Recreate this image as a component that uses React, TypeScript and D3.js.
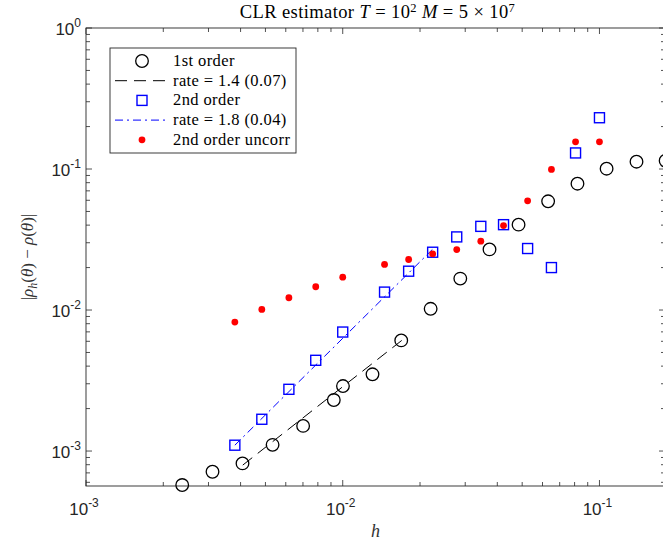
import * as d3 from 'd3';

// h values and errors
const firstH = [0.00237, 0.00311, 0.00407, 0.00533, 0.00701, 0.00923, 0.01002, 0.01306, 0.0169, 0.022, 0.0287, 0.0373, 0.0484, 0.0631, 0.0821, 0.1066, 0.1394, 0.181];
const firstErr = [5.74e-4, 7.13e-4, 8.17e-4, 1.106e-3, 1.507e-3, 2.3e-3, 2.89e-3, 3.5e-3, 6.09e-3, 0.0102, 0.0167, 0.0269, 0.0403, 0.059, 0.0787, 0.1005, 0.1127, 0.1145];

const secondH = [0.0038, 0.00484, 0.00617, 0.00785, 0.01, 0.01455, 0.01806, 0.0224, 0.0278, 0.0345, 0.0423, 0.0525, 0.065, 0.0807, 0.1];
const secondErr = [1.1e-3, 1.68e-3, 2.74e-3, 4.4e-3, 6.98e-3, 0.0134, 0.01885, 0.0257, 0.033, 0.0392, 0.0403, 0.0273, 0.02, 0.13, 0.231];
const uncorrErr = [8.21e-3, 0.0101, 0.01222, 0.01462, 0.0171, 0.02104, 0.02281, 0.02502, 0.02685, 0.03076, 0.0397, 0.0595, 0.0993, 0.156, 0.156];

// fitted rate lines (end points)
const fit1H = [0.00408, 0.0172];
const fit1Err = [7.95e-4, 6.2e-3];
const fit2H = [0.0038, 0.0224];
const fit2Err = [1.1e-3, 0.027];

const xMajor = [1e-3, 1e-2, 1e-1];
const xMajorExp = ['-3', '-2', '-1'];
const yMajor = [1e-3, 1e-2, 1e-1, 1];
const yMajorExp = ['-3', '-2', '-1', '0'];

const legendLabels = ['1st order', 'rate = 1.4 (0.07)', '2nd order', 'rate = 1.8 (0.04)', '2nd order uncorr'];

const W = 663;
const H = 546;
const left = 86;
const right = 665;
const top = 28;
const bottom = 486;

const serif = '"Liberation Serif", "DejaVu Serif", serif';
const sans = '"Liberation Sans", Arial, sans-serif';
const axisColor = '#262626';

export default function App() {
  const x = d3.scaleLog().domain([1e-3, 0.18]).range([left, right]);
  const y = d3.scaleLog().domain([5.65e-4, 1]).range([bottom, top]);

  const minorX: number[] = [];
  for (const d of [1e-3, 1e-2, 1e-1]) {
    for (let k = 2; k <= 9; k++) if (d * k <= 0.18) minorX.push(d * k);
  }
  const minorY: number[] = [];
  for (const d of [1e-4, 1e-3, 1e-2, 1e-1]) {
    for (let k = 2; k <= 9; k++) if (d * k >= 5.65e-4 && d * k <= 1) minorY.push(d * k);
  }

  const line = d3
    .line<[number, number]>()
    .x((d) => x(d[0]))
    .y((d) => y(d[1]));

  const fit1 = line(fit1H.map((h, i) => [h, fit1Err[i]]) as [number, number][]) as string;
  const fit2 = line(fit2H.map((h, i) => [h, fit2Err[i]]) as [number, number][]) as string;

  const majLen = 6;
  const minLen = 4;

  const lgX = 110;
  const lgY = 48;
  const rowY = (i: number) => lgY + 13 + i * 19.7;

  return (
    <svg width={W} height={H} style={{ position: 'absolute', left: 0, top: 0, background: '#fff' }}>
      <rect x={0} y={0} width={W} height={H} fill="#fff" />
      <defs>
        <clipPath id="plotArea">
          <rect x={left} y={top} width={right - left} height={bottom - top} />
        </clipPath>
      </defs>

      {/* ticks */}
      <g stroke={axisColor} strokeWidth={0.8}>
        {xMajor.map((v) => (
          <g key={'xm' + v}>
            <line x1={x(v)} x2={x(v)} y1={bottom} y2={bottom - majLen} />
            <line x1={x(v)} x2={x(v)} y1={top} y2={top + majLen} />
          </g>
        ))}
        {minorX.map((v) => (
          <g key={'xn' + v}>
            <line x1={x(v)} x2={x(v)} y1={bottom} y2={bottom - minLen} />
            <line x1={x(v)} x2={x(v)} y1={top} y2={top + minLen} />
          </g>
        ))}
        {yMajor.map((v) => (
          <g key={'ym' + v}>
            <line x1={left} x2={left + majLen} y1={y(v)} y2={y(v)} />
            <line x1={right} x2={right - majLen} y1={y(v)} y2={y(v)} />
          </g>
        ))}
        {minorY.map((v) => (
          <g key={'yn' + v}>
            <line x1={left} x2={left + minLen} y1={y(v)} y2={y(v)} />
            <line x1={right} x2={right - minLen} y1={y(v)} y2={y(v)} />
          </g>
        ))}
      </g>

      {/* axes box */}
      <rect x={left} y={top} width={right - left} height={bottom - top} fill="none" stroke={axisColor} strokeWidth={0.9} />

      {/* fit lines */}
      <g clipPath="url(#plotArea)" fill="none">
        <path d={fit1} stroke="#000" strokeWidth={1} strokeDasharray="12 7" />
        <path d={fit2} stroke="#0000ff" strokeWidth={1} strokeDasharray="8 4 2 4" />
      </g>

      {/* markers */}
      <g fill="none" stroke="#000" strokeWidth={1.3}>
        {firstH.map((h, i) => (
          <circle key={'c' + i} cx={x(h)} cy={y(firstErr[i])} r={6.3} />
        ))}
      </g>
      <g fill="none" stroke="#0000ff" strokeWidth={1.4}>
        {secondH.map((h, i) => (
          <rect key={'s' + i} x={x(h) - 5} y={y(secondErr[i]) - 5} width={10} height={10} />
        ))}
      </g>
      <g fill="#ff0000">
        {secondH.map((h, i) => (
          <circle key={'u' + i} cx={x(h)} cy={y(uncorrErr[i])} r={3.4} />
        ))}
      </g>

      {/* tick labels */}
      <g fill={axisColor} fontFamily={sans}>
        {xMajor.map((v, i) => (
          <text key={'xl' + v} x={x(v) - 2} y={515} textAnchor="middle" fontSize={17}>
            10
            <tspan dy={-8} fontSize={12}>{xMajorExp[i]}</tspan>
          </text>
        ))}
        {yMajor.map((v, i) => (
          <text key={'yl' + v} x={81} y={y(v) + 7} textAnchor="end" fontSize={17}>
            10
            <tspan dy={-8} fontSize={12}>{yMajorExp[i]}</tspan>
          </text>
        ))}
      </g>

      {/* axis labels */}
      <text x={(left + right) / 2} y={537} textAnchor="middle" fontFamily={serif} fontStyle="italic" fontSize={18} fill="#333">
        h
      </text>
      <text
        transform={`translate(33, ${(top + bottom) / 2}) rotate(-90)`}
        textAnchor="middle"
        fontFamily={serif}
        fontSize={17}
        fill="#333"
      >
        |<tspan fontStyle="italic">ρ</tspan>
        <tspan fontStyle="italic" fontSize={12} dy={4}>h</tspan>
        <tspan dy={-4}>(</tspan>
        <tspan fontStyle="italic">θ</tspan>) − <tspan fontStyle="italic">ρ</tspan>(<tspan fontStyle="italic">θ</tspan>)|
      </text>

      {/* title */}
      <text x={(left + right) / 2 + 2} y={18} textAnchor="middle" fontFamily={serif} fontSize={18.5} letterSpacing={0.4} fill="#000">
        CLR estimator <tspan fontStyle="italic">T</tspan> = 10<tspan dy={-6.5} fontSize={12.5}>2</tspan>
        <tspan dy={6.5}>  </tspan>
        <tspan fontStyle="italic">M</tspan> = 5 × 10<tspan dy={-6.5} fontSize={12.5}>7</tspan>
      </text>

      {/* legend */}
      <rect x={lgX} y={lgY} width={186} height={105} fill="#fff" stroke={axisColor} strokeWidth={0.9} />
      <circle cx={142} cy={rowY(0)} r={6.3} fill="none" stroke="#000" strokeWidth={1.3} />
      <line x1={115} x2={168} y1={rowY(1)} y2={rowY(1)} stroke="#000" strokeWidth={1} strokeDasharray="12 7" />
      <rect x={137} y={rowY(2) - 5} width={10} height={10} fill="none" stroke="#0000ff" strokeWidth={1.4} />
      <line x1={115} x2={168} y1={rowY(3)} y2={rowY(3)} stroke="#0000ff" strokeWidth={1} strokeDasharray="8 4 2 4" />
      <circle cx={142} cy={rowY(4)} r={3.4} fill="#ff0000" />
      <g fontFamily={serif} fontSize={16.5} letterSpacing={0.4} fill="#000">
        {legendLabels.map((t, i) => (
          <text key={t} x={173} y={rowY(i) + 5}>
            {t}
          </text>
        ))}
      </g>
    </svg>
  );
}
